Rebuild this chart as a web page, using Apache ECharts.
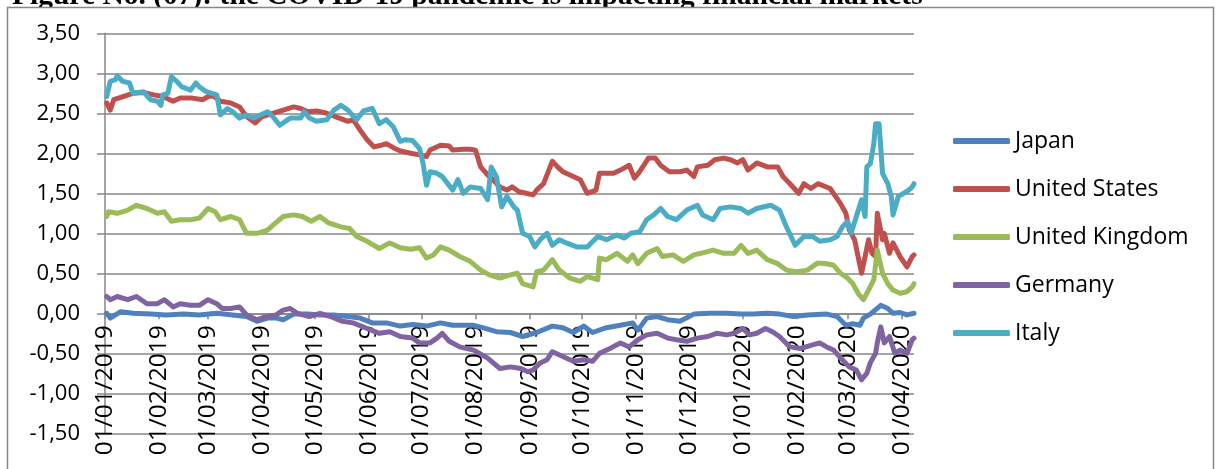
<!DOCTYPE html>
<html>
<head>
<meta charset="utf-8">
<script src="https://cdn.jsdelivr.net/npm/echarts@6/dist/echarts.min.js"></script>
<style>
html,body{margin:0;padding:0;background:#fff;}
#chart{width:1217px;height:469px;}
</style>
</head>
<body>
<div id="chart"></div>
<script>
// ---------------- DATA ----------------
const titleText = 'Figure No. (07): the COVID-19 pandemic is impacting financial markets';
const startDate = '2019-01-01';
const endDate = '2020-04-08';
const seriesNames = ['Japan', 'United States', 'United Kingdom', 'Germany', 'Italy'];
const seriesColors = ['#4F81BD', '#C0504D', '#9BBB59', '#8064A2', '#4BACC6'];
const yTicks = [-1.5, -1, -0.5, 0, 0.5, 1, 1.5, 2, 2.5, 3, 3.5];

const japan = [
['2019-01-02',0.00],['2019-01-04',-0.06],['2019-01-10',0.02],['2019-01-17',0.00],['2019-01-27',-0.01],
['2019-02-05',-0.02],['2019-02-15',-0.01],['2019-02-24',-0.02],['2019-03-06',0.00],['2019-03-15',-0.02],
['2019-03-23',-0.04],['2019-03-29',-0.10],['2019-04-04',-0.06],['2019-04-09',-0.06],['2019-04-13',-0.08],
['2019-04-19',-0.01],['2019-04-27',-0.01],['2019-05-04',-0.02],['2019-05-12',-0.02],['2019-05-20',-0.04],
['2019-05-27',-0.06],['2019-06-03',-0.12],['2019-06-11',-0.12],['2019-06-19',-0.16],['2019-06-26',-0.14],
['2019-07-04',-0.16],['2019-07-12',-0.12],['2019-07-19',-0.15],['2019-07-31',-0.15],['2019-08-05',-0.18],
['2019-08-13',-0.23],['2019-08-21',-0.24],['2019-08-28',-0.29],['2019-09-05',-0.24],['2019-09-14',-0.16],
['2019-09-20',-0.18],['2019-09-26',-0.24],['2019-10-02',-0.16],['2019-10-07',-0.24],['2019-10-15',-0.18],
['2019-10-23',-0.15],['2019-10-30',-0.12],['2019-11-02',-0.21],['2019-11-07',-0.06],['2019-11-13',-0.04],
['2019-11-19',-0.08],['2019-11-26',-0.10],['2019-12-04',-0.01],['2019-12-13',0.00],['2019-12-23',0.00],
['2019-12-31',-0.01],['2020-01-07',-0.01],['2020-01-15',0.00],['2020-01-22',-0.01],['2020-01-30',-0.04],
['2020-02-07',-0.02],['2020-02-18',-0.01],['2020-02-24',-0.04],['2020-02-29',-0.15],['2020-03-04',-0.13],
['2020-03-08',-0.15],['2020-03-10',-0.06],['2020-03-14',-0.01],['2020-03-20',0.10],['2020-03-24',0.06],
['2020-03-27',0.00],['2020-03-31',0.01],['2020-04-04',-0.02],['2020-04-08',0.00]
];

const unitedStates = [
['2019-01-02',2.63],['2019-01-04',2.54],['2019-01-06',2.67],['2019-01-10',2.70],['2019-01-17',2.75],
['2019-01-23',2.76],['2019-01-29',2.73],['2019-02-03',2.71],['2019-02-09',2.65],['2019-02-13',2.69],
['2019-02-20',2.69],['2019-02-26',2.67],['2019-03-01',2.71],['2019-03-04',2.72],['2019-03-08',2.65],
['2019-03-14',2.63],['2019-03-19',2.58],['2019-03-23',2.46],['2019-03-28',2.38],['2019-04-01',2.46],
['2019-04-07',2.50],['2019-04-13',2.54],['2019-04-19',2.58],['2019-04-23',2.56],['2019-04-27',2.52],
['2019-05-02',2.53],['2019-05-08',2.50],['2019-05-14',2.45],['2019-05-20',2.40],['2019-05-23',2.42],
['2019-05-27',2.29],['2019-05-31',2.17],['2019-06-04',2.08],['2019-06-08',2.10],['2019-06-11',2.12],
['2019-06-15',2.07],['2019-06-19',2.03],['2019-06-25',2.00],['2019-06-30',1.98],['2019-07-04',1.96],
['2019-07-06',2.04],['2019-07-12',2.10],['2019-07-17',2.09],['2019-07-19',2.04],['2019-07-25',2.05],
['2019-07-29',2.05],['2019-08-01',2.04],['2019-08-04',1.83],['2019-08-08',1.73],['2019-08-11',1.67],
['2019-08-15',1.58],['2019-08-19',1.54],['2019-08-22',1.58],['2019-08-26',1.52],['2019-08-30',1.50],
['2019-09-03',1.48],['2019-09-05',1.54],['2019-09-09',1.62],['2019-09-14',1.90],['2019-09-17',1.83],
['2019-09-20',1.77],['2019-09-26',1.71],['2019-09-30',1.67],['2019-10-04',1.50],['2019-10-09',1.54],
['2019-10-11',1.75],['2019-10-19',1.75],['2019-10-23',1.79],['2019-10-28',1.85],['2019-10-31',1.69],
['2019-11-03',1.77],['2019-11-08',1.94],['2019-11-12',1.94],['2019-11-15',1.85],['2019-11-20',1.77],
['2019-11-26',1.77],['2019-11-30',1.79],['2019-12-04',1.71],['2019-12-06',1.83],['2019-12-12',1.85],
['2019-12-16',1.92],['2019-12-21',1.94],['2019-12-25',1.92],['2019-12-29',1.88],['2020-01-01',1.92],
['2020-01-04',1.79],['2020-01-09',1.88],['2020-01-15',1.83],['2020-01-21',1.83],['2020-01-24',1.71],
['2020-01-28',1.62],['2020-02-02',1.50],['2020-02-05',1.62],['2020-02-09',1.56],['2020-02-13',1.62],
['2020-02-20',1.56],['2020-02-26',1.37],['2020-02-29',1.25],['2020-03-02',1.04],['2020-03-05',0.92],
['2020-03-07',0.71],['2020-03-09',0.50],['2020-03-11',0.71],['2020-03-13',0.92],['2020-03-15',0.75],
['2020-03-17',0.71],['2020-03-18',1.25],['2020-03-21',0.92],['2020-03-22',1.00],['2020-03-25',0.75],
['2020-03-27',0.88],['2020-03-31',0.71],['2020-04-04',0.58],['2020-04-07',0.71],['2020-04-08',0.73]
];

const unitedKingdom = [
['2019-01-02',1.21],['2019-01-03',1.27],['2019-01-08',1.25],['2019-01-14',1.29],['2019-01-19',1.35],
['2019-01-25',1.31],['2019-01-31',1.25],['2019-02-04',1.27],['2019-02-08',1.15],['2019-02-13',1.17],
['2019-02-19',1.17],['2019-02-24',1.19],['2019-03-01',1.31],['2019-03-05',1.27],['2019-03-08',1.17],
['2019-03-14',1.21],['2019-03-19',1.17],['2019-03-23',1.00],['2019-03-29',1.00],['2019-04-04',1.04],
['2019-04-07',1.10],['2019-04-13',1.21],['2019-04-19',1.23],['2019-04-24',1.21],['2019-04-29',1.15],
['2019-05-04',1.21],['2019-05-09',1.13],['2019-05-16',1.08],['2019-05-21',1.06],['2019-05-25',0.96],
['2019-05-31',0.90],['2019-06-07',0.81],['2019-06-13',0.88],['2019-06-19',0.82],['2019-06-25',0.80],
['2019-06-30',0.82],['2019-07-04',0.69],['2019-07-08',0.73],['2019-07-12',0.83],['2019-07-17',0.79],
['2019-07-23',0.71],['2019-07-29',0.65],['2019-08-04',0.54],['2019-08-09',0.48],['2019-08-15',0.44],
['2019-08-21',0.48],['2019-08-25',0.50],['2019-08-28',0.37],['2019-09-03',0.33],['2019-09-05',0.52],
['2019-09-09',0.54],['2019-09-14',0.67],['2019-09-18',0.54],['2019-09-24',0.44],['2019-09-30',0.40],
['2019-10-04',0.46],['2019-10-10',0.42],['2019-10-11',0.69],['2019-10-15',0.67],['2019-10-21',0.75],
['2019-10-27',0.65],['2019-10-30',0.73],['2019-11-02',0.62],['2019-11-07',0.75],['2019-11-13',0.81],
['2019-11-16',0.71],['2019-11-22',0.73],['2019-11-28',0.65],['2019-12-04',0.73],['2019-12-08',0.75],
['2019-12-15',0.79],['2019-12-21',0.75],['2019-12-27',0.75],['2019-12-31',0.85],['2020-01-04',0.75],
['2020-01-09',0.79],['2020-01-15',0.67],['2020-01-21',0.62],['2020-01-26',0.54],['2020-02-01',0.52],
['2020-02-07',0.54],['2020-02-13',0.63],['2020-02-18',0.62],['2020-02-22',0.60],['2020-02-26',0.50],
['2020-03-01',0.44],['2020-03-04',0.37],['2020-03-07',0.25],['2020-03-10',0.17],['2020-03-13',0.29],
['2020-03-16',0.42],['2020-03-18',0.79],['2020-03-21',0.50],['2020-03-24',0.37],['2020-03-27',0.29],
['2020-03-31',0.25],['2020-04-04',0.27],['2020-04-07',0.33],['2020-04-08',0.37]
];

const germany = [
['2019-01-02',0.21],['2019-01-04',0.17],['2019-01-08',0.21],['2019-01-14',0.17],['2019-01-19',0.21],
['2019-01-25',0.12],['2019-01-31',0.12],['2019-02-04',0.17],['2019-02-09',0.08],['2019-02-13',0.12],
['2019-02-19',0.10],['2019-02-24',0.10],['2019-03-01',0.17],['2019-03-06',0.12],['2019-03-09',0.06],
['2019-03-14',0.06],['2019-03-19',0.08],['2019-03-23',-0.02],['2019-03-29',-0.08],['2019-04-04',-0.04],
['2019-04-09',-0.02],['2019-04-13',0.04],['2019-04-17',0.06],['2019-04-21',0.00],['2019-04-28',-0.04],
['2019-05-04',0.00],['2019-05-10',-0.04],['2019-05-17',-0.10],['2019-05-23',-0.12],['2019-05-31',-0.19],
['2019-06-07',-0.25],['2019-06-13',-0.23],['2019-06-19',-0.29],['2019-06-26',-0.31],['2019-06-30',-0.37],
['2019-07-06',-0.37],['2019-07-10',-0.31],['2019-07-13',-0.25],['2019-07-17',-0.35],['2019-07-23',-0.42],
['2019-07-31',-0.46],['2019-08-08',-0.56],['2019-08-15',-0.69],['2019-08-21',-0.67],['2019-08-27',-0.69],
['2019-08-31',-0.73],['2019-09-03',-0.71],['2019-09-07',-0.62],['2019-09-11',-0.58],['2019-09-14',-0.48],
['2019-09-20',-0.54],['2019-09-26',-0.60],['2019-10-02',-0.58],['2019-10-07',-0.60],['2019-10-11',-0.50],
['2019-10-17',-0.44],['2019-10-23',-0.37],['2019-10-28',-0.42],['2019-11-02',-0.33],['2019-11-07',-0.27],
['2019-11-13',-0.25],['2019-11-19',-0.31],['2019-11-24',-0.33],['2019-11-30',-0.35],['2019-12-06',-0.31],
['2019-12-12',-0.29],['2019-12-17',-0.25],['2019-12-23',-0.27],['2019-12-27',-0.25],['2020-01-01',-0.19],
['2020-01-05',-0.27],['2020-01-09',-0.25],['2020-01-14',-0.19],['2020-01-18',-0.23],['2020-01-22',-0.29],
['2020-01-28',-0.42],['2020-02-03',-0.44],['2020-02-09',-0.40],['2020-02-14',-0.37],['2020-02-18',-0.42],
['2020-02-22',-0.46],['2020-02-27',-0.58],['2020-03-02',-0.67],['2020-03-06',-0.71],['2020-03-09',-0.83],
['2020-03-12',-0.75],['2020-03-14',-0.62],['2020-03-17',-0.50],['2020-03-18',-0.37],['2020-03-20',-0.17],
['2020-03-22',-0.37],['2020-03-25',-0.29],['2020-03-28',-0.50],['2020-03-31',-0.46],['2020-04-04',-0.50],
['2020-04-07',-0.33],['2020-04-08',-0.31]
];

const italy = [
['2019-01-02',2.71],['2019-01-04',2.90],['2019-01-07',2.92],['2019-01-08',2.97],['2019-01-11',2.90],
['2019-01-15',2.88],['2019-01-17',2.75],['2019-01-23',2.77],['2019-01-27',2.67],['2019-01-31',2.65],
['2019-02-02',2.60],['2019-02-03',2.73],['2019-02-06',2.75],['2019-02-08',2.96],['2019-02-11',2.90],
['2019-02-14',2.83],['2019-02-19',2.79],['2019-02-22',2.88],['2019-02-24',2.83],['2019-02-28',2.77],
['2019-03-06',2.73],['2019-03-08',2.48],['2019-03-12',2.56],['2019-03-15',2.52],['2019-03-19',2.44],
['2019-03-23',2.48],['2019-03-27',2.44],['2019-03-31',2.48],['2019-04-04',2.52],['2019-04-07',2.46],
['2019-04-11',2.35],['2019-04-17',2.44],['2019-04-23',2.44],['2019-04-25',2.52],['2019-04-28',2.44],
['2019-05-02',2.40],['2019-05-08',2.42],['2019-05-12',2.54],['2019-05-16',2.60],['2019-05-20',2.54],
['2019-05-21',2.56],['2019-05-25',2.42],['2019-05-29',2.53],['2019-06-03',2.56],['2019-06-07',2.37],
['2019-06-11',2.42],['2019-06-15',2.33],['2019-06-19',2.15],['2019-06-22',2.17],['2019-06-26',2.16],
['2019-06-30',2.06],['2019-07-02',1.88],['2019-07-04',1.60],['2019-07-06',1.77],['2019-07-10',1.75],
['2019-07-13',1.71],['2019-07-19',1.54],['2019-07-22',1.67],['2019-07-25',1.50],['2019-07-29',1.58],
['2019-08-04',1.56],['2019-08-08',1.42],['2019-08-10',1.83],['2019-08-13',1.71],['2019-08-16',1.33],
['2019-08-19',1.46],['2019-08-23',1.33],['2019-08-25',1.29],['2019-08-28',1.00],['2019-09-01',0.96],
['2019-09-04',0.83],['2019-09-07',0.92],['2019-09-11',1.00],['2019-09-14',0.85],['2019-09-18',0.92],
['2019-09-22',0.88],['2019-09-28',0.83],['2019-10-04',0.83],['2019-10-10',0.96],['2019-10-15',0.92],
['2019-10-21',0.98],['2019-10-25',0.94],['2019-10-29',1.00],['2019-11-03',1.02],['2019-11-07',1.17],
['2019-11-11',1.23],['2019-11-15',1.31],['2019-11-19',1.21],['2019-11-24',1.17],['2019-11-30',1.29],
['2019-12-06',1.35],['2019-12-09',1.23],['2019-12-15',1.17],['2019-12-19',1.31],['2019-12-25',1.33],
['2019-12-31',1.31],['2020-01-04',1.25],['2020-01-09',1.31],['2020-01-17',1.35],['2020-01-22',1.29],
['2020-01-26',1.08],['2020-01-31',0.85],['2020-02-05',0.96],['2020-02-10',0.96],['2020-02-14',0.90],
['2020-02-20',0.92],['2020-02-24',0.96],['2020-02-27',1.08],['2020-03-01',1.15],['2020-03-03',1.00],
['2020-03-06',1.21],['2020-03-09',1.42],['2020-03-11',1.21],['2020-03-12',1.83],['2020-03-14',1.87],
['2020-03-16',2.12],['2020-03-17',2.37],['2020-03-19',2.37],['2020-03-21',1.75],['2020-03-24',1.62],
['2020-03-26',1.46],['2020-03-27',1.23],['2020-03-30',1.46],['2020-04-02',1.50],['2020-04-05',1.54],
['2020-04-07',1.58],['2020-04-08',1.62]
];

const seriesValues = [japan, unitedStates, unitedKingdom, germany, italy];

// ---------------- BUILD ----------------
function pad(n){ return (n < 10 ? '0' : '') + n; }
const days = [];
(function(){
  const s = new Date(startDate + 'T00:00:00Z').getTime();
  const e = new Date(endDate + 'T00:00:00Z').getTime();
  for (let t = s; t <= e; t += 86400000) {
    const d = new Date(t);
    days.push(d.getUTCFullYear() + '-' + pad(d.getUTCMonth() + 1) + '-' + pad(d.getUTCDate()));
  }
})();
const dayIndex = {};
days.forEach((d, i) => { dayIndex[d] = i; });
function toSeriesData(pairs){
  const arr = new Array(days.length).fill(null);
  pairs.forEach(p => { arr[dayIndex[p[0]]] = p[1]; });
  return arr;
}
const isMonthStart = (i, v) => v.slice(8) === '01';
const fmtDate = v => v.slice(8) + '/' + v.slice(5, 7) + '/' + v.slice(0, 4);
const fmtNum = v => v.toFixed(2).replace('.', ',');

const FONT = 'Open Sans';
const GRID = '#878787';
const GRID_TOP = 33.3, GRID_BOTTOM = 35.7, GRID_H = 469 - GRID_TOP - GRID_BOTTOM;
// distance from bottom of plot to the zero line, from the y-axis range
const zeroOffset = GRID_H * (0 - yTicks[0]) / (yTicks[yTicks.length - 1] - yTicks[0]);

const chart = echarts.init(document.getElementById('chart'), null, {renderer: 'canvas'});
chart.setOption({
  animation: false,
  backgroundColor: '#ffffff',
  color: seriesColors,
  graphic: [
    { type: 'text', z: -2, silent: true, x: 12, y: -18.5,
      style: { text: titleText, fill: '#000', font: 'bold 29.5px "Liberation Serif"', verticalAlign: 'top', align: 'left' } },
    { type: 'rect', z: -1, silent: true,
      shape: { x: 7.5, y: 7.5, width: 1206, height: 500 },
      style: { fill: '#ffffff', stroke: GRID, lineWidth: 1.5 } }
  ],
  grid: { left: 105, right: 303, top: GRID_TOP, bottom: GRID_BOTTOM, containLabel: false, outerBoundsMode: 'none' },
  legend: {
    orient: 'vertical', left: 953, top: 129, padding: 0,
    itemWidth: 57, itemHeight: 6, itemGap: 24,
    icon: 'roundRect',
    textStyle: { fontFamily: FONT, fontSize: 23, color: '#000', lineHeight: 24, padding: [0,0,0,0] },
    data: seriesNames
  },
  xAxis: {
    type: 'category', data: days, boundaryGap: false,
    offset: -zeroOffset,
    axisLine: { show: true, onZero: false, lineStyle: { color: GRID, width: 1.5 } },
    axisTick: { show: true, interval: isMonthStart, length: 6, lineStyle: { color: GRID, width: 1.5 } },
    axisLabel: { interval: isMonthStart, rotate: 90, margin: 12, formatter: fmtDate,
      fontFamily: FONT, fontSize: 24.5, color: '#000' },
    splitLine: { show: false }
  },
  yAxis: {
    type: 'value', min: yTicks[0], max: yTicks[yTicks.length - 1], interval: 0.5,
    axisLine: { show: true, lineStyle: { color: GRID, width: 1.5 } },
    axisTick: { show: true, length: 8, lineStyle: { color: GRID, width: 1.5 } },
    axisLabel: { formatter: fmtNum, margin: 25, fontFamily: FONT, fontSize: 22, color: '#000' },
    splitLine: { show: true, lineStyle: { color: GRID, width: 1.5 } }
  },
  series: seriesNames.map((name, i) => ({
    name: name, type: 'line', data: toSeriesData(seriesValues[i]),
    connectNulls: true, showSymbol: false, symbol: 'none',
    lineStyle: { width: 5, color: seriesColors[i], cap: 'round', join: 'round' },
    itemStyle: { color: seriesColors[i] },
    z: 2 + i
  }))
});
</script>
</body>
</html>
